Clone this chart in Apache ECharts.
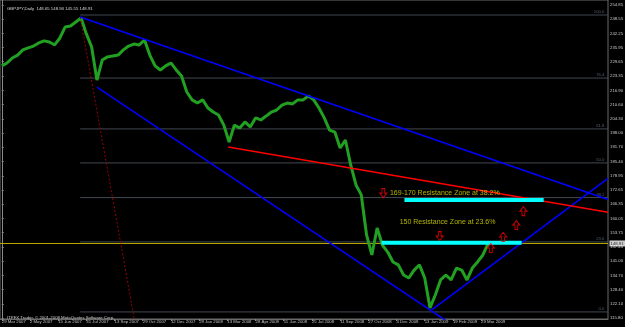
<!DOCTYPE html>
<html><head><meta charset="utf-8">
<script src="https://cdn.jsdelivr.net/npm/echarts@6/dist/echarts.min.js"></script>
<style>html,body{margin:0;padding:0;background:#000}#c{width:625px;height:327px}</style>
</head><body><div id="c"></div>
<script>
// ---- data ----
const barStep = 6; // one reading every 6 daily bars
const closes = [227.8,229.1,231.3,232.6,234.9,235.8,236.6,238.0,238.9,238.4,
  237.1,240.2,245.1,245.5,247.3,249.1,242.0,236.2,221.5,230.4,
  231.8,232.2,232.6,234.9,236.6,237.5,237.1,239.3,232.6,227.8,
  226.0,227.8,229.1,226.0,223.3,216.2,212.7,211.3,212.7,209.1,
  207.3,206.0,201.5,194.0,201.5,200.2,202.9,200.7,204.7,203.8,
  205.5,207.3,208.2,210.4,211.3,210.9,212.7,212.7,214.4,212.7,
  209.1,204.7,199.3,198.4,191.3,194.9,183.8,174.9,170.5,152.7,
  143.8,155.8,148.2,145.1,140.7,139.4,134.9,133.6,137.1,139.4,
  133.6,120.3,126.0,132.7,134.9,132.7,138.0,137.1,132.7,138.0,
  140.7,143.8,148.9];
const yTickLabels = ['115.80','122.10','128.40','134.70','141.00','147.45','153.75','160.05',
  '166.35','172.65','178.95','185.40','191.70','198.00','204.30','210.60','216.90',
  '223.35','229.65','235.95','242.25','248.55','254.85'];
const dateLabels = ['29 Mar 2007','2 May 2007','15 Jun 2007','31 Jul 2007','13 Sep 2007',
  '29 Oct 2007','12 Dec 2007','29 Jan 2008','13 Mar 2008','28 Apr 2008','11 Jun 2008',
  '25 Jul 2008','11 Sep 2008','27 Oct 2008','4 Dec 2008','13 Jan 2009','19 Feb 2009','29 Mar 2009'];
const barsPerDateLabel = 32;
const fibNames = ['100.0','76.4','61.8','50.0','38.2','23.6','0.0'];
const fibPrices = [250.4, 222.4, 199.8, 184.7, 169.3, 149.6, 118.5];
const fibStartBar = 89;
const lastPrice = 148.91;
const topTrend = [[89, 249.5], [688, 168.4]];
const lowerTrend = [[108, 218.4], [520, 110.5]];
const risingTrend = [[488, 119.4], [688, 177.8]];
const redTrend = [[257, 191.8], [688, 162.8]];
const redDotted = [[89, 249.5], [151, 114.0]];
const zone38 = [[457, 168.2], [615, 168.2]];
const zone23 = [[431, 149.2], [590, 149.2]];
const noteTexts = ['169-170 Resistance Zone at 38.2%', '150 Resistance Zone at 23.6%'];
const noteBars = [440, 451];
const notePrices = [171.4, 158.5];
const downArrows = [[433, 171.3], [497, 152.2]];
const upArrows = [[555, 146.9], [569, 151.8], [584, 157.1], [592, 163.3]];
const titleText = 'GBPJPY,Daily  148.65 148.94 145.55 148.91';
const copyText = 'ITPFX Trader, \u00a9 2001-2008 MetaQuotes Software Corp.';

// ---- chart ----
const X_MIN = -2, X_MAX = 688, Y_MIN = 115.36, Y_MAX = 257.07;
const FONT = 'Liberation Sans';
const dateTickBars = dateLabels.map((d, i) => i * barsPerDateLabel);
const yTickValues = yTickLabels.map(Number);
const priceData = closes.map((v, i) => [i * barStep, v]);

function seg(data, color, width, type, z) {
  return {type: 'line', data: data, symbol: 'none', silent: true, z: z || 3,
    lineStyle: {color: color, width: width, type: type || 'solid'}, animation: false};
}

const series = [];
fibPrices.forEach(p => series.push(seg([[fibStartBar, p], [X_MAX, p]], '#424952', 1, 'solid', 1)));
series.push({type: 'scatter', data: fibPrices.map((p, i) => [X_MAX, p, fibNames[i]]),
  symbolSize: 1, itemStyle: {color: 'rgba(0,0,0,0)'}, z: 2, animation: false,
  label: {show: true, position: 'left', distance: 3, offset: [0, -3], formatter: d => d.value[2],
    color: '#66768a', fontSize: 4.3, fontFamily: FONT}});
series.push(seg([[X_MIN, lastPrice], [X_MAX, lastPrice]], '#bcaa00', 1, 'solid', 2));
series.push({type: 'line', data: priceData, symbol: 'none', z: 3, animation: false,
  lineStyle: {color: '#22a022', width: 3}});
series.push(seg(redDotted, '#9a0000', 1, [2, 2], 4));
series.push(seg(topTrend, '#0000ff', 1.6, 'solid', 5));
series.push(seg(lowerTrend, '#0000ff', 1.6, 'solid', 5));
series.push(seg(risingTrend, '#0000ff', 1.6, 'solid', 5));
series.push(seg(redTrend, '#ff0000', 1.6, 'solid', 5));
series.push(seg(zone38, '#00ffff', 4, 'solid', 6));
series.push(seg(zone23, '#00ffff', 4, 'solid', 6));
series.push({type: 'scatter', data: noteTexts.map((t, i) => [noteBars[i], notePrices[i], t]),
  symbolSize: 1, itemStyle: {color: 'rgba(0,0,0,0)'}, z: 7, animation: false,
  label: {show: true, position: 'right', distance: 0, formatter: d => d.value[2],
    color: '#dede00', fontSize: 7, fontFamily: FONT}});
const arrowStyle = {color: 'rgba(0,0,0,0)', borderColor: '#ff0000', borderWidth: 1};
series.push({type: 'scatter', data: upArrows, z: 8, animation: false,
  symbol: 'path://M5,0 L10,5 L7,5 L7,10 L3,10 L3,5 L0,5 Z', symbolSize: [7, 9], itemStyle: arrowStyle});
series.push({type: 'scatter', data: downArrows, z: 8, animation: false,
  symbol: 'path://M3,0 L7,0 L7,5 L10,5 L5,10 L0,5 L3,5 Z', symbolSize: [7, 9], itemStyle: arrowStyle});
series.push({type: 'scatter', data: [[X_MAX, lastPrice]], symbolSize: 1, z: 9, animation: false,
  itemStyle: {color: 'rgba(0,0,0,0)'}, clip: false,
  label: {show: true, position: 'right', distance: 1, formatter: lastPrice.toFixed(2),
    backgroundColor: '#ffffff', color: '#000000', fontSize: 4.3, fontFamily: FONT, padding: [1, 2, 1, 1]}});

const chart = echarts.init(document.getElementById('c'), null, {renderer: 'canvas'});
chart.setOption({
  backgroundColor: '#000000',
  animation: false,
  title: [
    {text: titleText, left: 2, top: 2, textStyle: {color: '#d8d8d8', fontSize: 4.3, fontWeight: 'normal', fontFamily: FONT}},
    {text: copyText, left: 2, top: 311, textStyle: {color: '#c8c8c8', fontSize: 4.3, fontWeight: 'normal', fontFamily: FONT}}
  ],
  grid: {left: 0, right: 17, top: 0, bottom: 8, show: true, borderColor: '#6a6a6a', borderWidth: 1,
    backgroundColor: '#000000', outerBoundsMode: 'none', containLabel: false},
  xAxis: {type: 'value', min: X_MIN, max: X_MAX, position: 'bottom',
    axisLine: {show: true, lineStyle: {color: '#6a6a6a'}},
    axisTick: {show: true, length: 2, customValues: dateTickBars, lineStyle: {color: '#8a8a8a'}},
    axisLabel: {customValues: dateTickBars, align: 'left', margin: 1, fontSize: 4.3, color: '#c0c0c0',
      fontFamily: FONT, formatter: v => dateLabels[dateTickBars.indexOf(v)] || ''},
    splitLine: {show: false}},
  yAxis: {type: 'value', position: 'right', min: Y_MIN, max: Y_MAX,
    axisLine: {show: true, lineStyle: {color: '#8a8a8a'}},
    axisTick: {show: true, length: 2, customValues: yTickValues, lineStyle: {color: '#8a8a8a'}},
    axisLabel: {customValues: yTickValues, margin: 2, fontSize: 4.3, color: '#c8c8c8', fontFamily: FONT,
      formatter: v => yTickLabels[yTickValues.indexOf(v)] || v.toFixed(2)},
    splitLine: {show: false}},
  series: series
});
</script></body></html>
